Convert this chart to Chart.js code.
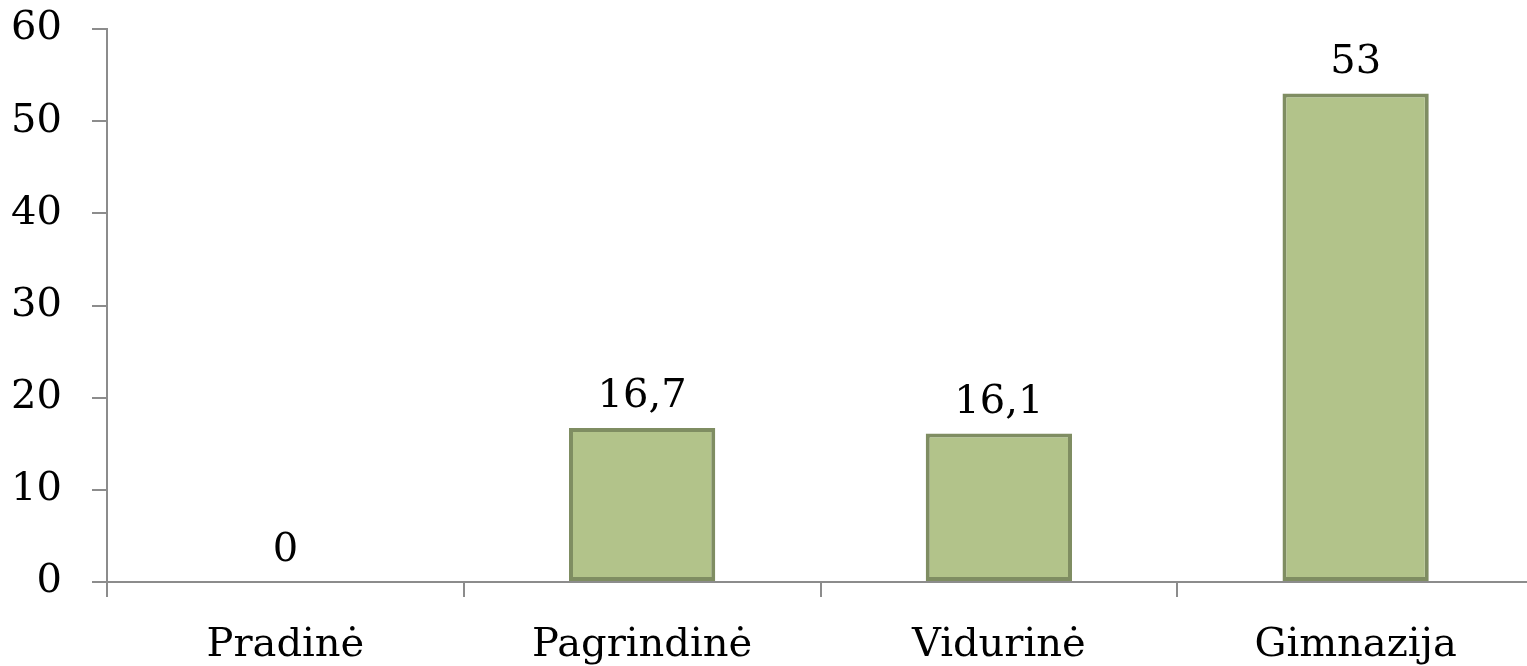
<!DOCTYPE html>
<html>
<head>
<meta charset="utf-8">
<script src="https://cdn.jsdelivr.net/npm/chart.js@4"></script>
<style>
    html, body { margin: 0; padding: 0; background: #fff; overflow: hidden; }
    #wrap { width: 1534px; height: 666px; }
</style>
</head>
<body>
<div id="wrap"><canvas id="barChart"></canvas></div>
<script>
// === データ ===
const categories = ['Pradinė', 'Pagrindinė', 'Vidurinė', 'Gimnazija'];
const values = [0, 16.7, 16.1, 53];
const yTicks = [0, 10, 20, 30, 40, 50, 60];

const FONT = "'DejaVu Serif', 'Liberation Serif', serif";
const FONT_SIZE = 40;
const AXIS_COLOR = '#8c8c8c';

// 値ラベル（小数点はカンマ）
const valueLabels = {
    id: 'valueLabels',
    afterDatasetsDraw(chart) {
        const ctx = chart.ctx;
        const meta = chart.getDatasetMeta(0);
        ctx.save();
        ctx.font = `${FONT_SIZE}px ${FONT}`;
        ctx.fillStyle = '#000';
        ctx.textAlign = 'center';
        ctx.textBaseline = 'alphabetic';
        meta.data.forEach((bar, i) => {
            const txt = String(values[i]).replace('.', ',');
            ctx.fillText(txt, bar.x, bar.y - 21);
        });
        ctx.restore();
    }
};

new Chart(document.getElementById('barChart'), {
    type: 'bar',
    data: {
        labels: categories,
        datasets: [{
            data: values,
            backgroundColor: '#b2c38a',
            borderColor: '#7f8d62',
            borderWidth: c => (c.raw === 0 ? 0 : 4),
            borderSkipped: false,
            categoryPercentage: 1,
            barPercentage: 0.41,
        }],
    },
    options: {
        responsive: true,
        maintainAspectRatio: false,
        animation: false,
        layout: { padding: 0 },
        plugins: {
            legend: { display: false },
            tooltip: { enabled: false },
        },
        scales: {
            x: {
                grid: {
                    drawOnChartArea: false,
                    color: AXIS_COLOR,
                    lineWidth: 2,
                    tickLength: 15,
                },
                border: { color: AXIS_COLOR, width: 2 },
                ticks: {
                    color: '#000',
                    font: { family: FONT, size: FONT_SIZE },
                    padding: 25,
                },
                afterFit: s => { s.height = 84; },
            },
            y: {
                min: 0,
                max: 60,
                afterBuildTicks: s => { s.ticks = yTicks.map(v => ({ value: v })); },
                grid: {
                    drawOnChartArea: false,
                    color: AXIS_COLOR,
                    lineWidth: 2,
                    tickLength: 15,
                },
                border: { color: AXIS_COLOR, width: 2 },
                ticks: {
                    color: '#000',
                    font: { family: FONT, size: FONT_SIZE },
                    padding: 30,
                },
                afterFit: s => {
                    s.width = 107;
                    s.paddingTop = 29;
                    s.paddingBottom = 0;
                },
            },
        },
    },
    plugins: [valueLabels],
});
</script>
</body>
</html>
